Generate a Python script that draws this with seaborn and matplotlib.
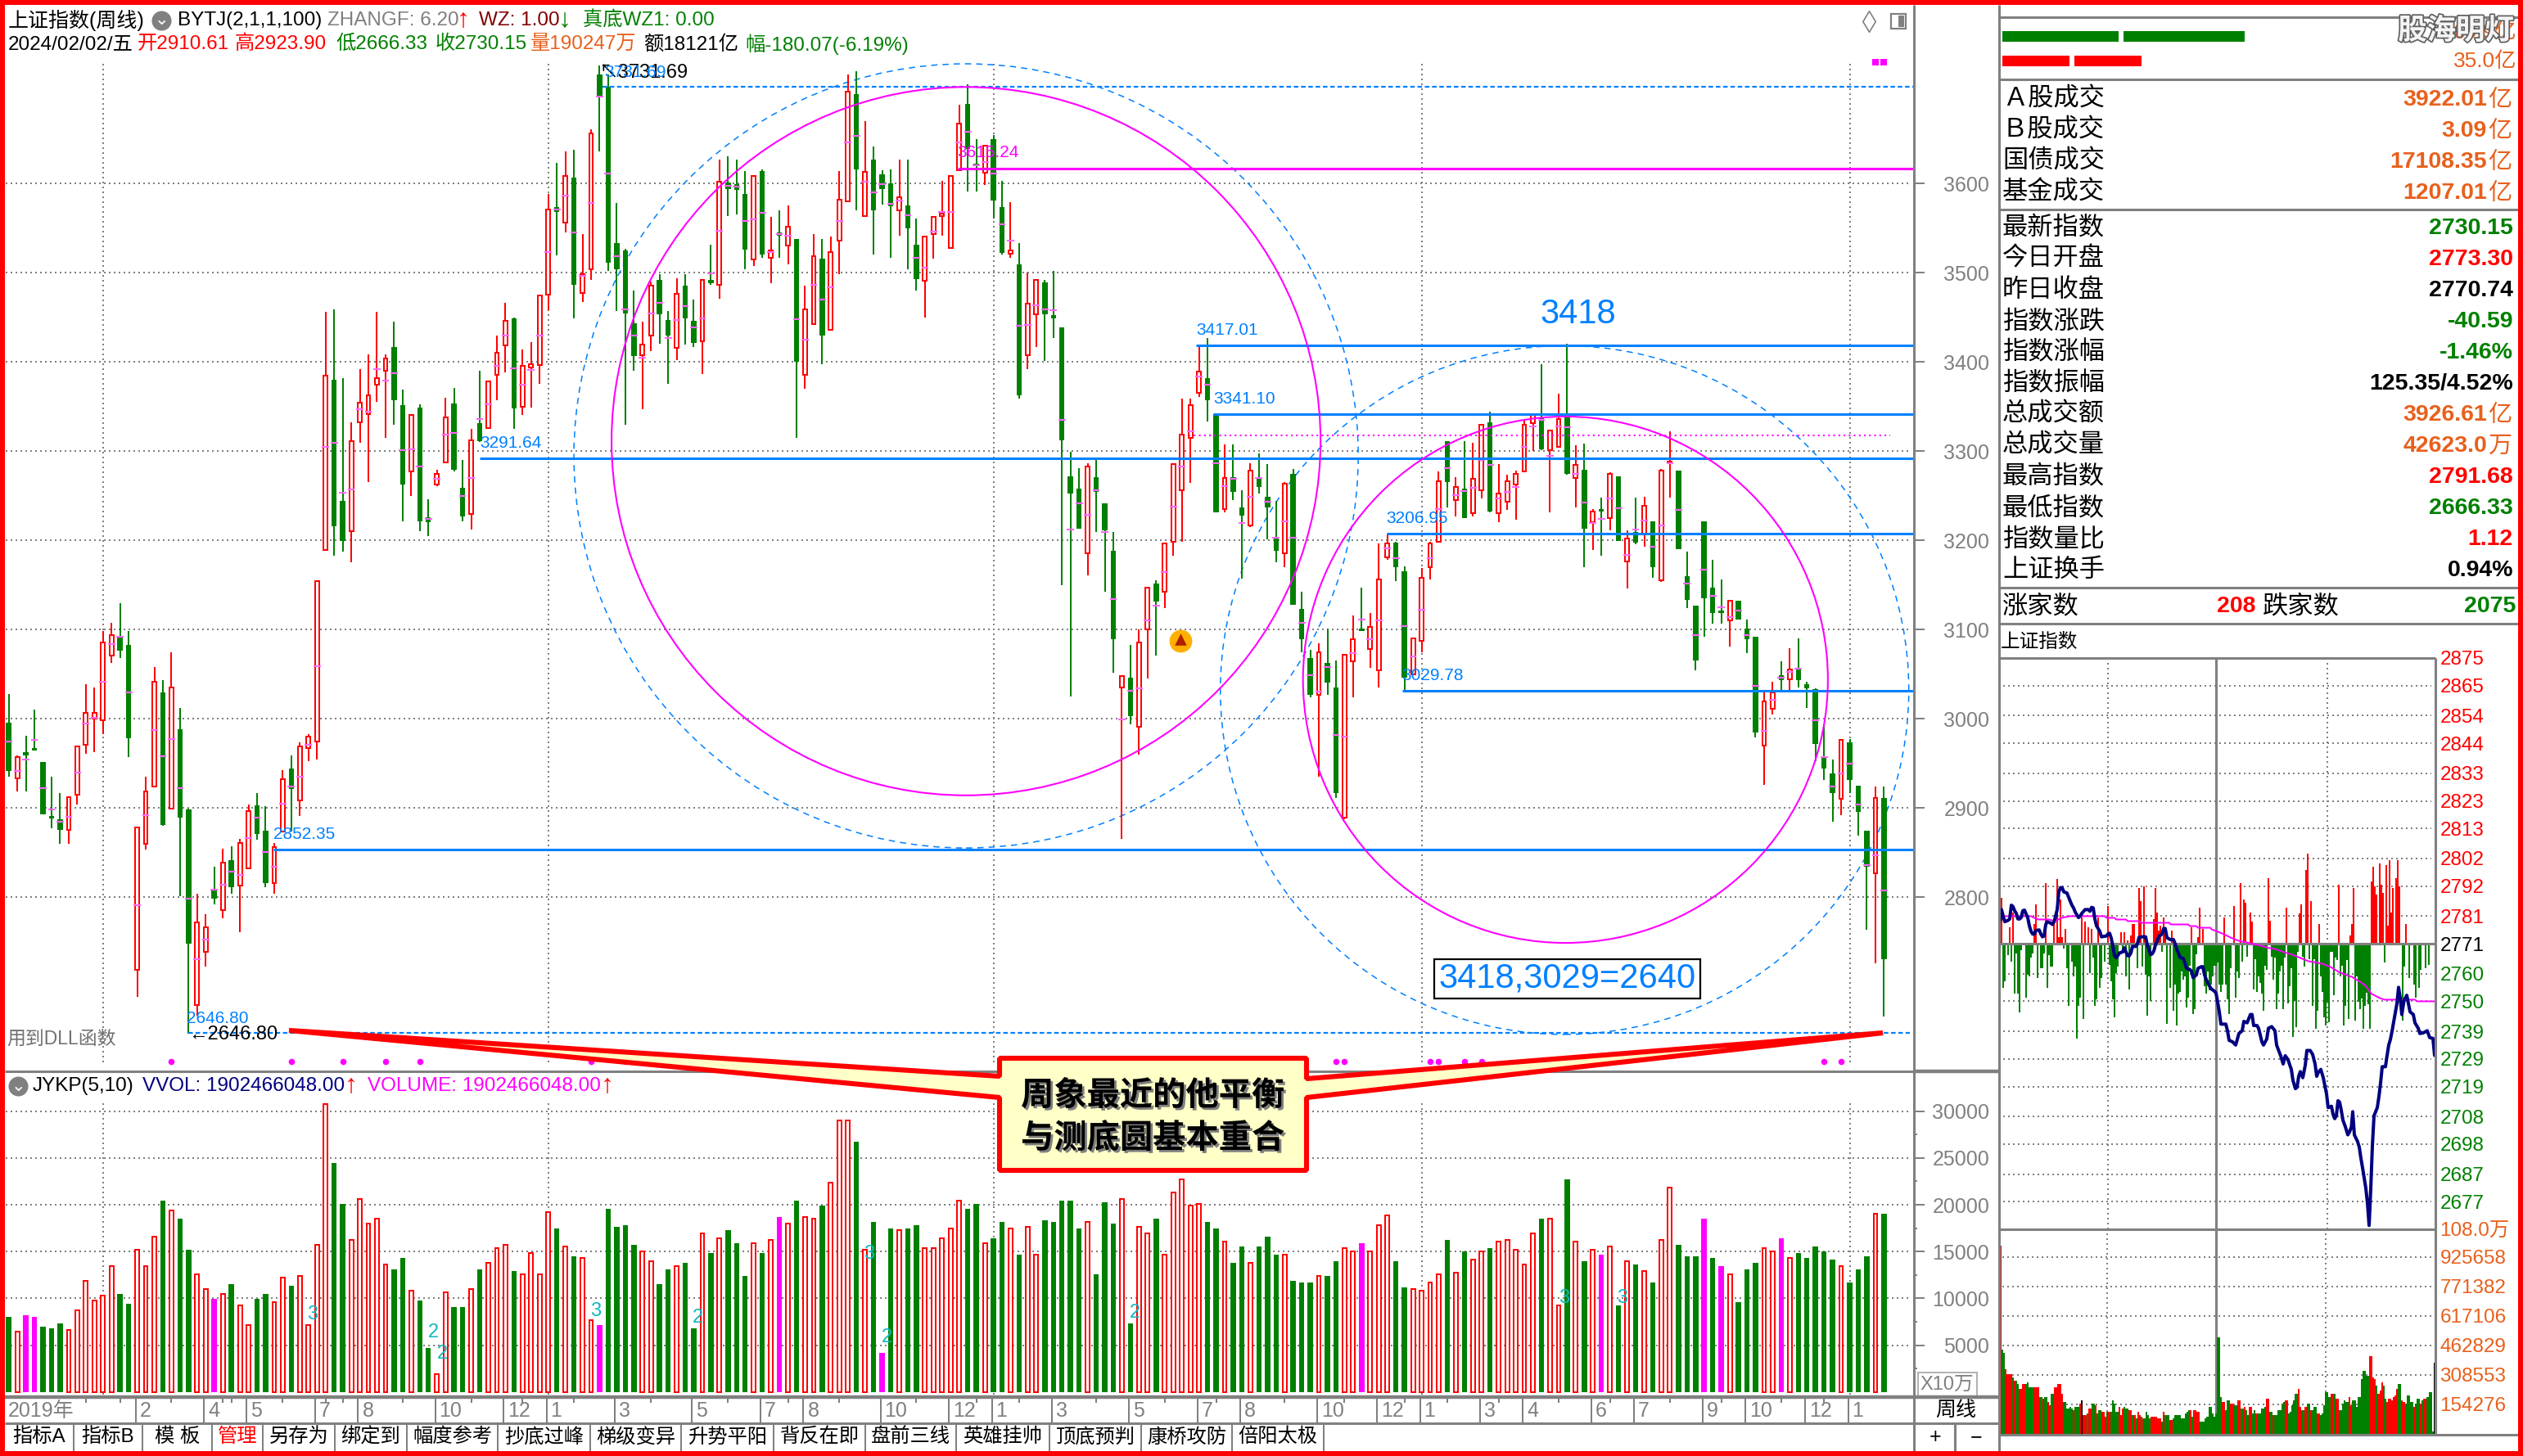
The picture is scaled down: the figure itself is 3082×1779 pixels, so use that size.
import numpy as np
import pandas as pd
import matplotlib
matplotlib.use('Agg')
import matplotlib.pyplot as plt
import seaborn as sns
from matplotlib.patches import Ellipse, Polygon, Rectangle
import matplotlib.patheffects as pe

# weekly candles
body_top = [2995,2957,2960,2965,2951,2891,2887,2912,2969,3006,3006,3085,3094,3093,3083,2878,2918,3041,3029,3035,
 2988,2898,2772,2766,2808,2839,2841,2861,2896,2903,2874,2856,2932,2944,2969,2980,3154,3384,3380,3244,
 3311,3354,3362,3382,3404,3417,3351,3340,3349,3226,3274,3338,3353,3259,3312,3331,3378,3410,3446,3449,
 3395,3397,3474,3571,3573,3608,3606,3498,3656,3722,3708,3533,3525,3443,3419,3485,3492,3447,3476,3485,
 3446,3492,3492,3602,3601,3599,3588,3608,3614,3525,3545,3551,3538,3459,3518,3516,3523,3582,3703,3700,
 3613,3627,3610,3600,3584,3575,3531,3540,3562,3566,3608,3667,3689,3621,3642,3650,3573,3525,3509,3465,
 3492,3489,3452,3439,3272,3258,3283,3271,3241,3188,3048,3046,3085,3147,3151,3196,3285,3318,3351,3389,
 3382,3341,3270,3271,3237,3278,3271,3249,3204,3263,3274,3123,3068,3074,3062,3035,3072,3089,3101,3103,
 3156,3196,3197,3165,3090,3158,3196,3266,3311,3260,3258,3269,3329,3332,3252,3266,3274,3329,3340,3338,
 3323,3336,3340,3284,3279,3232,3233,3274,3272,3202,3209,3239,3221,3278,3288,3278,3160,3127,3221,3147,
 3120,3132,3132,3101,3092,3019,3029,3049,3055,3057,3039,3033,2957,2939,2976,2973,2925,2874,2911,2910.61]
body_bot = [2941,2933,2959,2964,2893,2888,2875,2875,2915,2971,3000,2998,3071,3076,2978,2718,2860,2924,2881,2899,
 2889,2748,2679,2739,2798,2785,2811,2813,2832,2871,2816,2816,2873,2921,2908,2967,2974,3189,3216,3199,
 3210,3332,3341,3374,3390,3357,3262,3277,3221,3220,3262,3287,3279,3227,3229,3311,3326,3385,3418,3348,
 3350,3394,3396,3475,3568,3556,3486,3477,3504,3698,3511,3504,3454,3406,3407,3429,3453,3429,3416,3449,
 3421,3423,3488,3486,3594,3593,3526,3515,3520,3517,3541,3530,3400,3385,3442,3429,3436,3536,3580,3616,
 3563,3570,3594,3574,3570,3550,3493,3491,3543,3563,3528,3615,3639,3619,3612,3581,3522,3521,3362,3407,
 3453,3453,3449,3312,3252,3213,3185,3254,3211,3089,3035,3003,2991,3100,3131,3142,3198,3256,3315,3365,
 3357,3231,3235,3254,3228,3217,3260,3237,3188,3185,3128,3089,3027,3027,3040,2917,2889,3064,3098,3078,
 3054,3181,3170,3046,3050,3087,3170,3198,3265,3245,3225,3230,3256,3232,3230,3243,3262,3277,3331,3302,
 3301,3305,3274,3270,3213,3220,3232,3225,3199,3176,3197,3207,3170,3155,3287,3190,3133,3065,3135,3118,
 3118,3110,3111,3089,2984,2970,3011,3043,3044,3043,3034,2972,2944,2917,2910,2931,2895,2834,2827,2730.15]
high = [3028,2959,2981,3010,2951,2935,2917,2912,2969,3039,3035,3098,3107,3129,3098,2878,2935,3058,3043,3074,
 3012,2899,2804,2781,2834,2854,2857,2865,2904,2917,2902,2861,2942,2959,2973,2983,3154,3456,3459,3382,
 3332,3392,3408,3456,3408,3445,3369,3340,3352,3246,3279,3360,3371,3290,3325,3390,3378,3429,3466,3450,
 3414,3422,3474,3588,3623,3636,3638,3543,3661,3731.69,3722,3578,3527,3480,3445,3490,3498,3457,3494,3498,
 3470,3492,3531,3627,3630,3627,3614,3608,3616,3562,3570,3575,3538,3485,3543,3538,3540,3614,3722,3726,
 3670,3641,3615,3616,3627,3627,3561,3540,3562,3603,3608,3688,3711,3650,3642,3654,3603,3579,3533,3500,
 3492,3492,3502,3439,3299,3281,3286,3291,3241,3209,3048,3083,3100,3147,3155,3196,3285,3359,3359,3418,
 3427,3341,3307,3307,3256,3286,3297,3285,3244,3265,3280,3142,3077,3084,3101,3065,3072,3116,3147,3118,
 3196,3207,3198,3171,3090,3169,3198,3277,3311,3271,3311,3309,3329,3344,3285,3273,3278,3336,3340,3397,
 3323,3364,3420,3306,3308,3235,3248,3276,3272,3211,3248,3249,3221,3280,3322,3278,3187,3127,3221,3178,
 3156,3132,3132,3111,3092,3029,3041,3064,3079,3090,3041,3034,2994,2954,2976,2977,2925,2874,2924,2923.9]
low = [2935,2918,2918,2964,2893,2877,2860,2860,2904,2961,2962,2983,3062,3068,2957,2688,2853,2924,2880,2899,
 2801,2646.8,2667,2722,2792,2776,2804,2761,2832,2864,2811,2804,2873,2873,2891,2952,2954,3189,3183,3187,
 3175,3309,3265,3355,3315,3329,3221,3250,3210,3205,3261,3287,3277,3221,3212,3310,3326,3357,3388,3325,
 3340,3349,3375,3458,3519,3545,3449,3467,3492,3636,3502,3457,3329,3390,3347,3412,3420,3375,3402,3419,
 3417,3386,3486,3471,3563,3565,3504,3507,3517,3488,3517,3509,3315,3370,3441,3397,3436,3498,3580,3570,
 3562,3520,3576,3517,3541,3504,3480,3450,3516,3541,3528,3615,3591,3591,3598,3561,3520,3517,3359,3392,
 3417,3401,3427,3150,3025,3213,3161,3209,3142,3051,2865,2994,2960,3045,3071,3124,3183,3198,3264,3361,
 3333,3231,3231,3245,3157,3215,3252,3201,3175,3170,3128,3074,3024,2935,3027,2911,2887,3024,3098,3057,
 3035,3178,3154,3031,3050,3074,3156,3198,3237,3227,3225,3227,3247,3231,3220,3234,3223,3277,3300,3301,
 3231,3304,3273,3237,3170,3189,3183,3211,3199,3146,3195,3193,3158,3153,3248,3190,3124,3054,3092,3106,
 3106,3081,3111,3073,2979,2926,3005,3029,3031,3035,3012,2952,2931,2884,2892,2917,2869,2763,2726,2666.33]

vol = [8016,6442,8191,8016,6967,6792,7317,6617,8716,11864,9765,10290,13438,10465,9415,15187,13438,16586,20434,19385,
 18510,15187,12564,10990,9940,10465,11514,9241,7142,9940,10465,9590,12214,11339,12389,7142,15712,30753,24457,20084,
 16237,20609,17986,18510,13613,13088,14313,10815,9765,4693,1895,10640,9066,9066,10990,13088,13788,15362,15712,12913,
 12564,14837,12564,19210,17461,15537,14488,14313,7666,7142,19560,17636,17811,15712,15012,13963,11514,13088,13438,13788,
 6792,16936,14837,16411,17286,15887,12389,15887,14837,16237,18685,17986,20434,18685,18510,19909,22358,29004,29004,26731,
 15187,18160,4168,17461,17286,17461,17811,15362,15362,16411,17461,20434,19560,20084,15887,16411,18160,17461,14662,17636,
 14662,18335,18160,20434,20434,17461,18160,12564,20259,17986,20609,7317,17636,16936,18510,14662,21309,22708,19909,20084,
 18160,17461,16062,13788,15537,13788,15537,16586,14662,14662,11864,11689,11689,12389,12389,13963,15362,15012,15887,15012,
 17811,18860,13963,11164,10990,10815,11689,12564,16237,12739,15012,14138,15012,15362,16062,16237,15187,13613,16936,18510,
 18510,9241,22708,16062,13963,15187,14662,15537,9241,13963,13613,12913,11689,16237,21833,15712,14488,14488,18510,14313,
 13438,12564,9590,13088,13788,15362,15012,16411,14313,14837,14313,15537,15012,14138,13438,11689,13088,14488,19035,19035]
vol_kind = ['g','r','m','m','g','g','g','r','r','r','r','r','r','g','g','r','r','r','g','r',
 'g','g','r','r','m','r','g','r','r','g','g','r','r','g','r','r','r','r','g','g',
 'r','r','r','r','r','g','g','r','g','g','r','r','g','g','r','g','r','r','r','g',
 'r','r','r','r','g','r','g','r','r','m','g','g','g','g','r','r','g','g','r','g',
 'g','r','g','r','g','g','g','r','g','r','m','r','g','r','r','g','r','r','r','g',
 'r','g','m','g','r','g','g','r','r','r','r','r','g','g','r','g','g','r','g','r',
 'r','g','g','g','g','g','r','g','g','g','r','g','r','r','g','r','r','r','r','r',
 'g','g','r','g','g','r','g','g','g','r','g','g','g','r','g','g','r','r','m','r',
 'r','r','g','g','r','r','r','r','g','r','g','r','r','g','r','r','r','r','r','g',
 'r','r','g','r','g','r','m','r','g','r','g','r','g','r','r','g','g','g','m','g',
 'm','r','g','g','g','r','r','m','r','g','g','g','g','g','r','g','g','g','r','g']
# candle colour follows the volume colour, magenta weeks are all down candles
candle_kind = ['g' if k == 'm' else k for k in vol_kind]

signal_idx = [19,33,39,44,48,68,72,85,155,156,166,167,170,172,212,214]
top_signal_idx = [218,219]
year_idx = [11,63,115,165,215]
month_idx = [15,23,28,36,41,50,58,63,71,80,88,93,102,110,115,122,131,139,144,153,160,165,172,177,185,190,198,203,210,215]
month_lab = [2,4,5,7,8,10,12,1,3,5,7,8,10,12,1,3,5,7,8,10,12,1,3,4,6,7,9,10,12,1]
week_minor = [9,13,19,25,26,32,37,39,46,54,60,66,75,84,91,97,106,113,118,127,135,141,149,156,163,168,174,181,187,194,200,207,212]

price_ticks = [3600,3500,3400,3300,3200,3100,3000,2900,2800]
vol_ticks = [30000,25000,20000,15000,10000,5000]

# levels drawn across the price panel: value, first week, label
blue_levels = [3418,3341,3291.6,3207,3031,2853]
blue_starts = [138.7,140.7,55,160.9,162.7,30.9]
blue_labels = ['3417.01','3341.10','3291.64','3206.95','3029.78','2852.35']

# intraday force bars
tick_t = [0,1,6,8,21,22,28,33,35,36,37,38,40,50,52,54,56,60,66,74,76,78,80,81,82,85,86,88,94,95,96,97,98,100,101,105,117,121,122,124,
 137,143,147,149,150,153,154,164,165,175,183,184,187,188,190,195,207,214,215,216,227,228,229,230,232,233,234,236,237,238,239,240,242,243,244,248,
 2,3,5,7,9,10,11,12,13,16,17,18,19,20,23,25,26,27,29,30,31,32,39,41,42,44,45,46,47,48,49,51,55,57,58,59,61,62,64,67,68,69,70,71,72,75,77,79,84,87,89,90,91,92,99,102,104,106,107,108,109,110,111,112,113,114,115,116,118,119,120,125,126,127,128,129,130,131,132,133,
 134,135,136,138,139,140,141,144,145,146,148,151,155,156,157,158,159,160,161,162,163,166,167,168,169,170,171,172,173,174,176,177,178,179,180,181,182,185,186,189,191,192,193,194,196,197,198,199,200,201,202,203,204,205,206,208,209,210,211,212,213,217,218,219,220,221,222,223,224,225,226,235,246,247,250,253,254,256,257,260,262,266]
tick_v = [17.4,16.8,6.1,11.4,7.2,14.4,22.1,8.4,23.4,2.5,16.2,2.5,5.4,9.6,7.9,6.1,5.4,9.6,13.8,4.3,4.3,1.3,3.1,7.2,7.2,20.3,15.6,20.9,9.0,20.3,11.4,4.9,6.7,9.6,4.9,4.9,6.1,2.5,13.2,5.4,
 9.6,13.8,22.1,16.2,15.0,11.4,7.9,23.9,8.4,13.2,10.9,14.4,26.9,32.9,15.6,7.2,21.5,3.1,7.2,20.3,22.7,28.1,21.0,17.9,29.3,21.5,18.5,28.7,6.7,30.5,11.4,20.3,23.9,30.5,20.9,7.2,
 -16.0,-13.6,-4.1,-6.5,-18.3,-3.5,-18.3,-24.9,-2.3,-19.6,-11.2,-11.8,-5.2,-3.5,-12.4,-8.8,-8.8,-3.5,-16.0,-4.1,-8.2,-8.2,-1.7,-8.8,-22.5,-6.5,-11.8,-8.2,-34.5,-22.5,-19.6,-27.3,-10.6,-5.2,-22.5,-20.2,-16.0,-12.4,-6.5,-7.6,-13.6,-20.2,-26.7,-10.6,-8.2,-3.5,-11.8,-16.6,-8.8,-8.2,-11.2,-26.1,-11.8,-20.8,-2.9,-29.1,-16.0,-24.3,-15.0,-29.7,-18.3,-17.7,-10.0,-13.0,-12.0,-23.1,-19.6,-8.0,-25.5,-23.7,-4.0,-15.4,-18.3,-10.0,-17.1,-14.8,-11.8,-8.0,-8.0,-7.0,
 -14.8,-17.7,-14.8,-14.8,-20.2,-25.5,-8.8,-19.6,-10.0,-12.4,-6.5,-4.7,-16.6,-5.8,-17.7,-12.0,-14.2,-18.3,-24.3,-8.0,-9.4,-4.7,-13.0,-5.2,-23.7,-18.3,-10.0,-8.0,-23.7,-5.2,-21.9,-15.4,-8.8,-33.9,-20.8,-30.3,-3.0,-4.7,-8.2,-5.8,-22.5,-5.8,-30.9,-24.3,-11.8,-17.7,-26.7,-29.7,-21.3,-28.5,-3.0,-3.0,-18.9,-5.2,-6.0,-11.8,-8.0,-29.7,-22.5,-6.0,-27.3,-27.9,-11.8,-21.3,-23.7,-20.0,-30.9,-22.5,-18.0,-22.0,-30.9,-7.0,-27.9,-8.2,-12.4,-14.8,-19.6,-16.0,-9.4,-8.8,-7.6,-9.4]

# intraday index line
line_t = [0,1,2,3,5,6,7,8,9,10,11,12,13,14,15,16,17,18,19,20,21,22,24,25,26,27,28,29,31,32,33,34,35,36,37,38,39,41,42,43,44,45,46,47,48,49,50,52,54,55,56,57,58,59,60,61,62,65,66,67,68,69,70,71,72,73,75,76,77,78,79,80,81,83,84,85,87,89,90,91,92,93,94,95,97,99,100,101,102,104,106,107,108,109,110,112,113,114,116,117,118,120,121,123,124,125,126,127,129,131,132,133,
 134,135,136,138,139,140,142,144,146,148,149,151,153,154,155,157,158,159,160,161,163,164,166,168,169,
 170.5,171.5,173,174.3,176,178,179,180.5,181.5,182.5,183.5,185,186.5,187.5,189.5,191,192.5,193.5,194.5,196,197.5,198.5,199.5,200.5,202.5,203.5,204.5,205.5,206.5,207.5,208.5,209.5,211,212.5,213.5,214.7,215.5,216.5,218.5,219.5,220.5,221.5,223.5,224.5,225.5,226.5,227.5,228.5,230.5,231.5,232.5,233.5,235.5,236.2,237.5,238.5,239.5,
 241,242.5,243.5,244.5,245.5,246.8,248.5,249.5,250.5,252.5,253.5,255.5,256.5,258.5,261,262.5,264.5,265.5]
line_p = [2779.4,2783.4,2781,2779,2779.5,2780,2785,2784.5,2783,2782,2780,2780,2780.5,2783,2783.2,2781.8,2780.5,2777.5,2775.5,2774.5,2774.5,2775.8,2776,2774.5,2773.5,2773.8,2778,2779,2778.5,2778,2778.8,2781,2783.4,2789.9,2791.4,2791.4,2789.9,2789.4,2787.9,2786.4,2785,2784,2782.5,2781.5,2780.5,2781,2782,2783.4,2783.4,2782.8,2784.2,2784,2780,2777.5,2776.5,2775.5,2773.5,2773.8,2774.5,2774.8,2773,2770,2766.6,2765.9,2766.6,2767.6,2768,2769.5,2768,2766.6,2766.6,2767.6,2770,2770,2771,2773.3,2773.5,2773.5,2770.5,2769,2767,2767.3,2768.3,2770.5,2773.5,2774.5,2776.5,2776.5,2773.2,2772.5,2772.5,2771,2769,2767.6,2766,2765.6,2764,2762,2761.6,2761,2758.6,2759.6,2762,2762.6,2762.6,2759.6,2758,2756.6,2754.6,2753.7,2753,2749.7,
 2746.2,2741.7,2741.7,2741.7,2739.3,2735.8,2735.3,2734.1,2738.3,2739.3,2742.7,2742.2,2745.2,2745.2,2741.2,2741.2,2740.2,2737.8,2735.3,2734.1,2736.3,2740.2,2740.8,2739.3,2734.1,
 2731.7,2730.2,2727.2,2730.2,2728.7,2725.2,2721.2,2718.2,2718.7,2722.7,2724.4,2722.2,2726.7,2732.1,2732.1,2730.7,2727.2,2722.7,2724.2,2725.2,2722.2,2719.2,2716.3,2711.3,2711.8,2708.8,2707.3,2708.3,2713.8,2713.3,2710.3,2706.8,2704.3,2701.4,2702.4,2704.3,2709.8,2701.4,2698.9,2696.9,2692.9,2689.4,2682,2676.5,2668.4,2681.5,2697.4,2708.3,2711.3,2715.3,2720.2,2726.2,2726.2,2729.2,2734.1,2736.1,2739.1,
 2744.2,2749.2,2755.1,2751.2,2745.2,2750.2,2752.2,2749.2,2746.2,2745.2,2742.2,2740.2,2738.3,2738.5,2739.3,2736.8,2736.5,2730.3]
avg_t = [0,19,21,23.5,30,33.5,37.7,42.7,64,65,70,71,77,78,85,86,103.5,104.3,115,116,120,121,128.5,129.3,133,137,141,146,151,157,163,168.5,173.5,178.5,183.5,188.5,197,202,207,212,215,220,223.5,226.8,232,235,253.5,255,266]
avg_p = [2781,2781,2780.4,2779.8,2779.8,2779.2,2780.4,2781,2781,2780.4,2780.4,2779.8,2779.8,2779.2,2779.2,2778.6,2778.6,2778,2778,2777.4,2777.4,2776.8,2776.8,2776.2,2775.4,2774.4,2773.2,2772,2771.4,2770.6,2769.6,2769,2767.9,2767,2765.8,2764.6,2763.7,2762.5,2760.7,2759.5,2758.9,2757.1,2755.6,2752.8,2751.2,2750.6,2750.6,2750,2750]
intra_ticks = [2875,2865,2854,2844,2833,2823,2813,2802,2792,2781,2771,2760,2750,2739,2729,2719,2708,2698,2687,2677]

# intraday minute volume, thousands
mvol = [1000,454,437,351,326,326,326,308,291,291,274,248,248,274,274,274,283,257,257,257,257,257,257,206,206,197,206,206,180,163,
 223,223,257,257,274,274,223,180,180,146,146,154,146,137,154,154,154,171,188,111,111,120,146,146,171,171,163,120,137,137,
 129,129,103,129,129,129,188,171,129,129,154,111,146,154,146,146,137,137,111,111,94,129,111,103,94,94,129,111,94,103,
 103,103,103,94,94,77,129,111,111,111,86,86,94,111,111,111,111,94,94,120,129,137,137,103,137,137,129,129,77,77,
 77,94,103,154,154,120,103,120,520,520,206,180,180,137,188,188,171,171,163,163,188,188,146,146,154,137,111,154,154,120,
 137,120,120,120,146,146,154,197,197,129,129,111,111,111,137,137,171,180,188,188,120,129,163,188,223,223,248,154,137,137,
 154,171,171,137,137,154,154,120,120,111,120,163,231,231,206,223,223,223,197,197,137,137,171,188,180,180,206,163,188,188,
 154,206,206,300,343,343,317,317,420,420,308,300,266,223,240,283,266,197,180,197,197,188,206,214,248,274,274,188,180,171,
 214,214,180,180,154,171,197,197,171,188,197,197,206,231,231,26,386]
mvol_kind = ['r','g','g','r','r','r','r','g','r','g','g','r','r','r','r','g','g','g','g','g','r','r','r','g','g','r','g','g','r','r',
 'g','g','r','r','r','r','r','g','g','g','g','g','g','r','g','g','g','r','k','r','r','g','r','r','g','g','r','g','g','g',
 'r','r','r','g','r','g','g','g','g','g','r','r','r','g','g','g','r','r','g','r','g','r','r','g','r','g','g','g','g','r',
 'r','r','r','r','r','g','r','g','g','g','r','r','g','g','g','g','g','g','g','g','g','g','r','g','r','r','r','r','g','g',
 'g','g','g','g','g','g','g','g','g','g','g','r','r','g','g','g','r','r','g','g','r','r','g','g','r','g','g','r','r','g',
 'g','r','g','g','g','g','g','r','r','g','g','r','g','g','g','g','g','g','r','r','g','g','g','g','g','g','r','r','g','g',
 'r','g','g','r','g','g','g','r','r','g','g','g','g','g','g','r','r','g','r','r','g','g','g','g','g','g','r','r','g','g',
 'g','g','g','g','g','g','g','g','r','r','r','r','g','r','r','r','g','g','r','r','r','r','r','r','r','g','g','r','r','g',
 'g','g','g','g','r','g','g','g','r','g','r','r','g','g','g','g','k']

# right-hand quote table
quote_names = ['Ａ股成交','Ｂ股成交','国债成交','基金成交','最新指数','今日开盘','昨日收盘','指数涨跌','指数涨幅','指数振幅','总成交额','总成交量','最高指数','最低指数','指数量比','上证换手']
quote_vals = ['3922.01','3.09','17108.35','1207.01','2730.15','2773.30','2770.74','-40.59','-1.46%','125.35/4.52%','3926.61','42623.0','2791.68','2666.33','1.12','0.94%']
quote_units = ['亿','亿','亿','亿','','','','','','','亿','万','','','','']

tab_names = ['指标A','指标B','模 板','管理','另存为','绑定到','幅度参考','抄底过峰','梯级变异','升势平阳','背反在即','盘前三线','英雄挂帅','顶底预判','康桥攻防','倍阳太极']
tab_edges = [6,90,174,259,321,409,497,608,721,832,945,1057,1168,1282,1394,1505,1617]

RED, GREEN, BLUE, MAG, GRAY = '#FF0000', '#008000', '#0080FF', '#FF00FF', '#808080'
ORANGE, NAVY, PINK, CYAN = '#E8601C', '#000080', '#FF66FF', '#10B8C0'
DOT = (0, (1, 2))
W, H = 3082, 1779

sns.set_theme(style='white')
plt.rcParams['font.family'] = ['Liberation Sans', 'Noto Sans CJK SC', 'DejaVu Sans']
plt.rcParams['axes.unicode_minus'] = False

fig = plt.figure(figsize=(W / 100, H / 100), dpi=100, facecolor='white')


def px_axes(x0, y0, x1, y1, **kw):
    ax = fig.add_axes([x0 / W, 1 - y1 / H, (x1 - x0) / W, (y1 - y0) / H], **kw)
    for s in ax.spines.values():
        s.set_visible(False)
    return ax


# ---- price panel ----
ax = px_axes(6, 8, 2338, 1310)
idx = np.arange(220)
top, bot, hi, lo = map(np.array, (body_top, body_bot, high, low))
is_up = np.array([k == 'r' for k in candle_kind])

ax.hlines(price_ticks, -0.4, 222, color=GRAY, lw=1.44, ls=DOT, zorder=1)
ax.vlines(year_idx, 2615, 3734, color=GRAY, lw=1.44, ls=DOT, zorder=1)

ax.add_patch(Ellipse((111.8, 3294.5), 91.6, 879, fill=False, ec=BLUE, lw=1.1, ls=(0, (5, 4)), zorder=2))
ax.add_patch(Ellipse((181.7, 3032), 80.4, 772, fill=False, ec=BLUE, lw=1.1, ls=(0, (5, 4)), zorder=2))

ax.vlines(idx[is_up], lo[is_up], hi[is_up], color=RED, lw=1.44, zorder=3)
ax.vlines(idx[~is_up], lo[~is_up], hi[~is_up], color=GREEN, lw=1.44, zorder=3)
ax.bar(idx[is_up], (top - bot)[is_up], bottom=bot[is_up], width=0.46, facecolor='white', edgecolor=RED, lw=1.44, zorder=4)
ax.bar(idx[~is_up], np.maximum((top - bot)[~is_up], 3), bottom=bot[~is_up], width=0.62, color=GREEN, lw=0, zorder=4)
mid = (top + bot + hi + lo) / 4
ax.hlines(mid, idx - 0.42, idx + 0.42, color=PINK, lw=1.5, zorder=5)

ax.hlines(blue_levels, blue_starts, 222.5, color=BLUE, lw=2.2, zorder=6)
for v, s, lab in zip(blue_levels, blue_starts, blue_labels):
    ax.text(s, v + 17, lab, color=BLUE, size=15, va='center', ha='left', zorder=7)
ax.hlines(3616.5, 110.8, 222.5, color=MAG, lw=2.2, zorder=6)
ax.text(110.8, 3634, '3615.24', color=MAG, size=15, va='center', zorder=7)
ax.hlines(3317.5, 137.8, 219.7, color=MAG, lw=1.5, ls=DOT, zorder=6)
ax.hlines(3708, 69.3, 222.5, color=BLUE, lw=1.6, ls=(0, (2.5, 1.5)), zorder=6)
ax.hlines(2648, 21, 222, color=BLUE, lw=1.6, ls=(0, (2.5, 1.5)), zorder=6)

ax.add_patch(Ellipse((111.8, 3311), 82.8, 794, fill=False, ec=MAG, lw=1.5, zorder=6))
ax.add_patch(Ellipse((181.8, 3043.6), 61.3, 590, fill=False, ec=MAG, lw=1.5, zorder=6))

sig = pd.DataFrame({'week': signal_idx, 'y': 2615.6})
sns.scatterplot(data=sig, x='week', y='y', color=MAG, s=30, marker='o', linewidth=0, ax=ax, zorder=5)
sig2 = pd.DataFrame({'week': top_signal_idx, 'y': 3735.8})
sns.scatterplot(data=sig2, x='week', y='y', color=MAG, s=30, marker='s', linewidth=0, ax=ax, zorder=5)

ax.set_xlim(-0.45, 222.5)
ax.set_ylim(2603.7, 3798.2)
ax.set_xlabel('')
ax.set_ylabel('')
ax.set_xticks([])
ax.yaxis.tick_right()
ax.set_yticks(price_ticks)
ax.tick_params(axis='y', right=True, length=9.4, width=1.44, color=GRAY, pad=57, labelsize=18, labelcolor=GRAY)
for lab in ax.get_yticklabels():
    lab.set_horizontalalignment('right')

# ---- weekly volume ----
axv = px_axes(6, 1310, 2338, 1707)
dfv = pd.DataFrame({'week': idx, 'vol': vol, 'kind': vol_kind})
axv.hlines(vol_ticks, -0.4, 222, color=GRAY, lw=1.44, ls=DOT, zorder=0)
axv.vlines(year_idx, -300, 30900, color=GRAY, lw=1.44, ls=DOT, zorder=0)
sns.barplot(data=dfv, x='week', y='vol', hue='kind', hue_order=['r', 'g', 'm'],
            palette={'r': RED, 'g': GREEN, 'm': MAG}, native_scale=True, dodge=False, width=0.62,
            errorbar=None, saturation=1, linewidth=0, legend=False, ax=axv, zorder=2)
for bar in axv.containers[0]:
    bar.set_facecolor('white')
    bar.set_edgecolor(RED)
    bar.set_linewidth(1.44)
    bar.set_x(bar.get_x() + 0.08)
    bar.set_width(0.46)
axv.set_xlim(-0.45, 222.5)
axv.set_ylim(-551, 34172)
axv.set_xlabel('')
axv.set_ylabel('')
axv.set_xticks([])
axv.yaxis.tick_right()
axv.set_yticks(vol_ticks)
axv.set_yticks([v + 2500 for v in vol_ticks[1:]] + [2500], minor=True)
axv.tick_params(axis='y', which='major', right=True, length=9.4, width=1.44, color=GRAY, pad=57, labelsize=18, labelcolor=GRAY)
axv.tick_params(axis='y', which='minor', right=True, length=3, width=1.44, color=GRAY)
for lab in axv.get_yticklabels():
    lab.set_horizontalalignment('right')

# ---- intraday price ----
axi = px_axes(2442, 804, 2975, 1502)
axi.hlines([t for t in intra_ticks if t not in (2875, 2771)], 2, 263.5, color=GRAY, lw=1.44, ls=DOT, zorder=0)
axi.vlines([66, 200], 2667, 2875, color=GRAY, lw=1.44, ls=DOT, zorder=0)
axi.vlines(132, 2667, 2875, color=GRAY, lw=2.2, zorder=1)
dft = pd.DataFrame({'t': tick_t, 'v': tick_v})
dft['kind'] = np.where(dft['v'] > 0, 'r', 'g')
sns.barplot(data=dft, x='t', y='v', hue='kind', hue_order=['r', 'g'], palette={'r': RED, 'g': GREEN},
            native_scale=True, dodge=False, width=1, errorbar=None, saturation=1, linewidth=0,
            legend=False, bottom=2771, ax=axi, zorder=2)
axi.hlines(2771, -0.5, 266, color=GRAY, lw=2.2, zorder=3)
sns.lineplot(x=avg_t, y=avg_p, color=MAG, lw=1.44, estimator=None, ax=axi, zorder=4)
sns.lineplot(x=line_t, y=line_p, color=NAVY, lw=2.9, estimator=None, ax=axi, zorder=5)
axi.set_xlim(-0.5, 266)
axi.set_ylim(2667, 2875)
axi.set_xticks([])
axi.set_xlabel('')
axi.set_ylabel('')
axi.yaxis.tick_right()
axi.set_yticks(intra_ticks)
axi.tick_params(axis='y', right=False, length=0, pad=4, labelsize=17.5)
for lab, t in zip(axi.get_yticklabels(), intra_ticks):
    lab.set_color(RED if t > 2771 else ('black' if t == 2771 else GREEN))

# ---- intraday volume ----
axm = px_axes(2442, 1502, 2975, 1755)
mvol_ticks = [154.276, 308.553, 462.829, 617.106, 771.382, 925.658]
axm.hlines(mvol_ticks, 1, 254, color=GRAY, lw=1.44, ls=DOT, zorder=0)
axm.vlines([63, 192], -13, 1071, color=GRAY, lw=1.44, ls=DOT, zorder=0)
axm.vlines(127, -13, 1071, color=GRAY, lw=2.2, zorder=0)
dfm = pd.DataFrame({'t': np.arange(len(mvol)), 'vol': mvol, 'kind': mvol_kind})
sns.barplot(data=dfm, x='t', y='vol', hue='kind', hue_order=['r', 'g', 'k'],
            palette={'r': RED, 'g': GREEN, 'k': 'black'}, native_scale=True, dodge=False, width=1,
            errorbar=None, saturation=1, linewidth=0, legend=False, bottom=-13, ax=axm, zorder=2)
axm.set_xlim(-1, 256.6)
axm.set_ylim(-13, 1071)
axm.set_xticks([])
axm.set_xlabel('')
axm.set_ylabel('')
axm.yaxis.tick_right()
axm.set_yticks(mvol_ticks + [1071])
axm.set_yticklabels(['154276', '308553', '462829', '617106', '771382', '925658', '108.0万'])
axm.tick_params(axis='y', right=False, length=0, pad=4, labelsize=17.5, labelcolor=ORANGE)

# ---- everything around the panels, in picture pixels ----
ov = fig.add_axes([0, 0, 1, 1], facecolor='none', zorder=10)
ov.set_xlim(0, W)
ov.set_ylim(H, 0)
ov.axis('off')


def put(x, y, s, color='black', size=17, ha='left', va='center', **kw):
    return ov.text(x, y, s, color=color, size=size, ha=ha, va=va, **kw)


def seg(x0, y0, x1, y1, color=GRAY, lw=2.2):
    ov.plot([x0, x1], [y0, y1], color=color, lw=lw, solid_capstyle='butt', zorder=2)


# frame lines
seg(2338, 6, 2338, 1773)
seg(2442, 6, 2442, 1773)
seg(6, 1309, 2338, 1309)
seg(2338, 1309, 2442, 1309, lw=3.2)
seg(6, 1707, 2442, 1707, lw=3.2)
seg(6, 1739, 2442, 1739)
seg(2442, 21, 3076, 21)
seg(2442, 97, 3076, 97)
seg(2442, 256, 3076, 256)
seg(2442, 718, 3076, 718)
seg(2442, 762, 3076, 762)
seg(2442, 804, 2975, 804)
seg(2975, 804, 2975, 1753)
seg(2442, 1502, 2975, 1502)
seg(2442, 1753, 3076, 1753)
seg(2388, 1739, 2388, 1773)
ov.add_patch(Rectangle((2343, 1677), 72, 29, fill=False, ec='#B0B0B0', lw=1.4))

# outer red frame
for r in [(0, 0, W, 6), (0, H - 6, W, 6), (0, 0, 6, H), (W - 6, 0, 6, H)]:
    ov.add_patch(Rectangle((r[0], r[1]), r[2], r[3], color=RED, lw=0, zorder=9))

# header rows
ov.scatter([197, 22], [24.5, 1327], s=300, color=GRAY, lw=0)
put(197, 24.5, '⌄', 'white', 15, ha='center', family='DejaVu Sans')
put(22, 1327, '⌄', 'white', 15, ha='center', family='DejaVu Sans')
put(10, 25, '上证指数(周线)', size=18)
put(217, 25, 'BYTJ(2,1,1,100)', size=17.5)
put(400, 25, 'ZHANGF: 6.20', GRAY, 17.5)
put(566, 24, '↑', RED, 23, ha='center', weight='bold')
put(585, 25, 'WZ: 1.00', '#800000', 17.5)
put(690, 24, '↓', GREEN, 23, ha='center', weight='bold')
put(712, 25, '真底WZ1: 0.00', GREEN, 17.5)
put(10, 54, '2024/02/02/五', size=17.5)
put(168, 54, '开2910.61', RED, 17.5)
put(287, 54, '高2923.90', RED, 17.5)
put(410, 54, '低2666.33', GREEN, 17.5)
put(532, 54, '收2730.15', GREEN, 17.5)
put(648, 54, '量190247万', ORANGE, 17.5)
put(786, 54, '额18121亿', size=17.5)
put(910, 54, '幅-180.07(-6.19%)', GREEN, 17.5)
put(40, 1327, 'JYKP(5,10)', size=17.5)
put(174, 1327, 'VVOL: 1902466048.00', NAVY, 17.5)
put(429, 1326, '↑', RED, 23, ha='center', weight='bold')
put(449, 1327, 'VOLUME: 1902466048.00', MAG, 17.5)
put(742, 1326, '↑', RED, 23, ha='center', weight='bold')

# window icons
ov.scatter([2283], [26], marker='d', s=170, facecolor='white', edgecolor=GRAY, lw=1.2)
ov.add_patch(Rectangle((2310, 17), 18, 18, fc='white', ec=GRAY, lw=1.6))
ov.add_patch(Rectangle((2319, 19), 7, 14, fc=GRAY, lw=0))

# chart notes
put(732, 89, '↖3731.69', size=17)
put(738, 89, '3731.69', BLUE, 15)
put(230, 1264, '←2646.80', size=17)
put(228, 1244, '2646.80', BLUE, 15)
put(8, 1269, '用到DLL函数', '#707070', 16.5)
put(1928, 384, '3418', BLUE, 30, ha='center')
ov.add_patch(Rectangle((1752, 1172), 325, 48, fc='white', ec='black', lw=1.6, zorder=3))
put(1914.5, 1196, '3418,3029=2640', BLUE, 30, ha='center', zorder=4)
ov.scatter([1442], [783], s=400, color='#FFB000', lw=0)
ov.scatter([1442], [781], s=110, marker='^', color='#B02000', lw=0)

# cyan counters over the volume bars
for x, y, s in [(382, 1606, '3'), (529, 1628, '2'), (540, 1654, '2'), (728, 1602, '3'), (852, 1610, '2'),
                (1062, 1532, '3'), (1083, 1634, '2'), (1386, 1604, '2'), (1911, 1586, '3'), (1982, 1586, '3')]:
    put(x, y, s, CYAN, 17, ha='center')

# callout
ov.add_patch(Polygon([(1221, 1293), (1596, 1293), (1596, 1318), (2300, 1262), (1596, 1341), (1596, 1430),
                      (1221, 1430), (1221, 1341), (353, 1259), (1221, 1315)],
                     closed=True, fc='#FFFFC8', ec=RED, lw=4.4, joinstyle='bevel', zorder=6))
for y, s in [(1339, '周象最近的他平衡'), (1391, '与测底圆基本重合')]:
    put(1408, y, s, 'black', 29, ha='center', weight='bold', zorder=7,
        path_effects=[pe.withSimplePatchShadow(offset=(2, -2), shadow_rgbFace='#808080', alpha=1)])

# date strip
for m, lab in zip(month_idx, month_lab):
    x = 10.7 + 10.46 * (m - 0.2)
    seg(x, 1707, x, 1739, lw=1.44)
    put(x + 5, 1724, str(lab), GRAY, 18)
for m in week_minor:
    x = 10.7 + 10.46 * m
    seg(x, 1709, x, 1714, lw=1.44)
put(10, 1724, '2019年', GRAY, 18)
put(2389, 1724, '周线', size=18, ha='center')
put(2364, 1756, '+', size=18, ha='center')
put(2414, 1756, '−', size=18, ha='center')
put(2378, 1692, 'X10万', GRAY, 17, ha='center')

# tab row
for name, x0, x1 in zip(tab_names, tab_edges[:-1], tab_edges[1:]):
    put((x0 + x1) / 2, 1756, name, RED if name == '管理' else 'black', 17.5, ha='center')
    seg(x1, 1739, x1, 1773, lw=1.44)

# side panel: order flow bars
for r in [(2446, 38, 142, 13, GREEN), (2594, 38, 148, 13, GREEN), (2446, 68, 82, 13, RED), (2534, 68, 82, 13, RED)]:
    ov.add_patch(Rectangle((r[0], r[1]), r[2], r[3], color=r[4], lw=0))
put(3074, 40, '60.9亿', ORANGE, 19, ha='right')
put(3074, 75, '35.0亿', ORANGE, 19, ha='right')
put(3000, 38, '股海明灯', '#F4F4F4', 25.5, ha='center', weight='bold', zorder=8,
    path_effects=[pe.withStroke(linewidth=2.5, foreground='#606060')])

# quote table
row_y = [122, 160, 198, 236, 279, 317, 355, 393, 431, 469, 507, 545, 583, 621, 659, 697]
val_color = [ORANGE, ORANGE, ORANGE, ORANGE, GREEN, RED, 'black', GREEN, GREEN, 'black', ORANGE, ORANGE, RED, GREEN, RED, 'black']
for y, name, val, unit, c in zip(row_y, quote_names, quote_vals, quote_units, val_color):
    put(2446, y, name, size=22.5)
    if unit:
        put(3068, y, unit, c, 21, ha='right')
        put(3038, y, val, c, 20.5, ha='right', weight='bold')
    else:
        put(3070, y, val, c, 20.5, ha='right', weight='bold')
put(2446, 741, '涨家数', size=22.5)
put(2732, 741, '208', RED, 20.5, ha='center', weight='bold')
put(2811, 741, '跌家数', size=22.5, ha='center')
put(3073, 741, '2075', GREEN, 20.5, ha='right', weight='bold')
put(2444, 785, '上证指数', size=17)

fig.savefig('out.png', dpi=100, facecolor='white')
